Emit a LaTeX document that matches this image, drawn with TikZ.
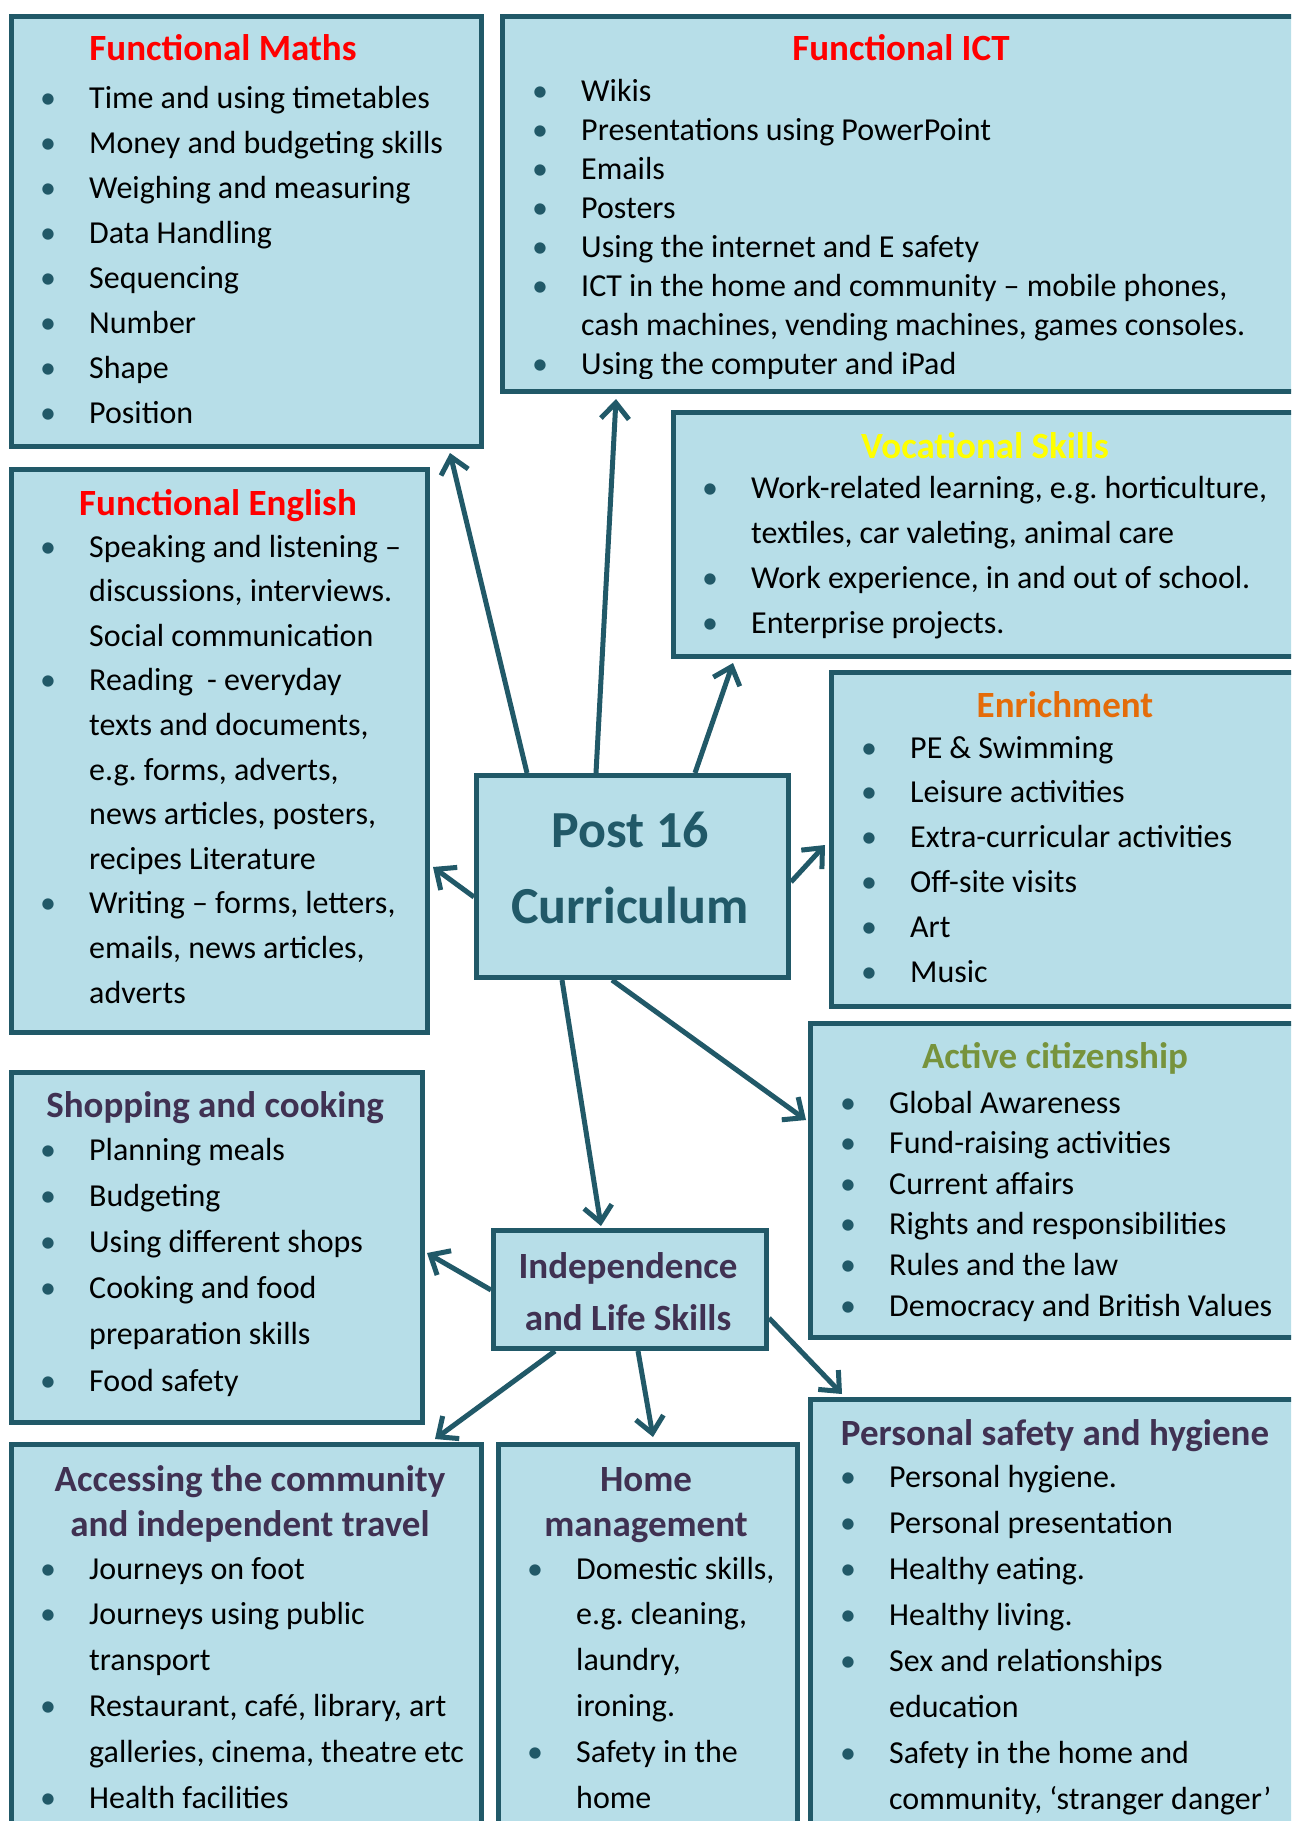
\documentclass[tikz,border=0pt]{standalone}
\usepackage{fontspec}
\setmainfont{Carlito}
\usetikzlibrary{arrows.meta,calc}
\definecolor{edge}{HTML}{215968}
\definecolor{boxfill}{HTML}{B7DEE8}
\definecolor{ttlred}{HTML}{FF0000}
\definecolor{ttlyel}{HTML}{FFFF00}
\definecolor{ttlorg}{HTML}{E46C0A}
\definecolor{ttlgrn}{HTML}{77933C}
\definecolor{ttlpur}{HTML}{403152}
\newlength\bind
\setlength\bind{41pt}
\newcommand\bul[1]{\noindent\makebox[0pt]{\textcolor{edge}{\char"2022}}\hspace*{\bind}#1\par}
\newcommand\cnt[1]{\noindent\hspace*{\bind}#1\par}
\newcommand\pitch[1]{\fontsize{32}{#1}\selectfont\parskip=0pt\parindent=0pt\spaceskip=7.1pt plus 1pt\xspaceskip=7.1pt\relax}
\tikzset{
  box/.style={draw=edge, fill=boxfill, line width=5pt, rectangle, inner sep=0pt, anchor=north west},
  ttl/.style={font=\bfseries\fontsize{37}{44}\selectfont, anchor=base, inner sep=0pt},
  lst/.style={anchor=base west, inner sep=0pt, text width=900pt},
  arr/.style={draw=edge, line width=5pt, -{Straight Barb[length=16pt,width=28pt]}},
}
\begin{document}
\begin{tikzpicture}[x=1pt,y=-1pt]
\clip (0,0) rectangle (1291,1821);
\fill[white] (0,0) rectangle (1291,1821);

% boxes
\node[box, minimum width=470pt, minimum height=430pt] (maths) at (9,14) {};
\node[box, minimum width=810pt, minimum height=375pt] (ict) at (500,14) {};
\node[box, minimum width=639pt, minimum height=244pt] (voc) at (671,410) {};
\node[box, minimum width=416pt, minimum height=563pt] (eng) at (9,467) {};
\node[box, minimum width=481pt, minimum height=334pt] (enr) at (829,670) {};
\node[box, minimum width=312pt, minimum height=202pt] (post) at (474,773) {};
\node[box, minimum width=502pt, minimum height=314pt] (act) at (808,1021) {};
\node[box, minimum width=411pt, minimum height=350pt] (shop) at (9,1070) {};
\node[box, minimum width=273pt, minimum height=118pt] (ind) at (491,1228) {};
\node[box, minimum width=502pt, minimum height=443pt] (pers) at (808,1397) {};
\node[box, minimum width=470pt, minimum height=420pt] (acc) at (9,1442) {};
\node[box, minimum width=299pt, minimum height=420pt] (home) at (496,1442) {};

% titles
\node[ttl, text=ttlred] (mathsT) at (223,60) {Functional Maths};
\node[ttl, text=ttlred] (ictT) at (901,60) {Functional ICT};
\node[ttl, text=ttlyel] (vocT) at (985,458) {Vocational Skills};
\node[ttl, text=ttlred] (engT) at (218,515) {Functional English};
\node[ttl, text=ttlorg] (enrT) at (1065,717) {Enrichment};
\node[ttl, text=edge, font=\bfseries\fontsize{52}{60}\selectfont] (postT1) at (630,847) {Post 16};
\node[ttl, text=edge, font=\bfseries\fontsize{52}{60}\selectfont] (postT2) at (630,923) {Curriculum};
\node[ttl, text=ttlgrn] (actT) at (1055,1068) {Active citizenship};
\node[ttl, text=ttlpur] (shopT) at (215,1117) {Shopping and cooking};
\node[ttl, text=ttlpur] (indT1) at (628,1278) {Independence};
\node[ttl, text=ttlpur] (indT2) at (628,1330) {and Life Skills};
\node[ttl, text=ttlpur] (accT1) at (250,1491) {Accessing the community};
\node[ttl, text=ttlpur] (accT2) at (250,1536) {and independent travel};
\node[ttl, text=ttlpur] (homeT1) at (646,1491) {Home};
\node[ttl, text=ttlpur] (homeT2) at (646,1536) {management};
\node[ttl, text=ttlpur] (persT) at (1055,1445) {Personal safety and hygiene};

% lists
\node[lst] (mathsL) at (48,108) {\pitch{45}%
\bul{Time and using timetables}%
\bul{Money and budgeting skills}%
\bul{Weighing and measuring}%
\bul{Data Handling}%
\bul{Sequencing}%
\bul{Number}%
\bul{Shape}%
\bul{Position}};

\begin{scope}
\clip (500,14) rectangle (1300,378);
\node[lst] (ictL) at (540,101) {\pitch{39.1}%
\bul{Wikis}%
\bul{Presentations using PowerPoint}%
\bul{Emails}%
\bul{Posters}%
\bul{Using the internet and E safety}%
\bul{ICT in the home and community – mobile phones,}%
\cnt{cash machines, vending machines, games consoles.}%
\bul{Using the computer and iPad}};
\end{scope}

\node[lst] (vocL) at (710,498) {\pitch{45}%
\bul{Work-related learning, e.g. horticulture,}%
\cnt{textiles, car valeting, animal care}%
\bul{Work experience, in and out of school.}%
\bul{Enterprise projects.}};

\node[lst] (engL) at (48,557) {\pitch{44.6}%
\bul{Speaking and listening –}%
\cnt{discussions, interviews.}%
\cnt{Social communication}%
\bul{Reading\hspace{14pt}- everyday}%
\cnt{texts and documents,}%
\cnt{e.g. forms, adverts,}%
\cnt{news articles, posters,}%
\cnt{recipes Literature}%
\bul{Writing – forms, letters,}%
\cnt{emails, news articles,}%
\cnt{adverts}};

\node[lst] (enrL) at (869,758) {\pitch{44.8}%
\bul{PE \& Swimming}%
\bul{Leisure activities}%
\bul{Extra-curricular activities}%
\bul{Off-site visits}%
\bul{Art}%
\bul{Music}};

\node[lst] (actL) at (848,1113) {\pitch{40.6}%
\bul{Global Awareness}%
\bul{Fund-raising activities}%
\bul{Current affairs}%
\bul{Rights and responsibilities}%
\bul{Rules and the law}%
\bul{Democracy and British Values}};

\node[lst] (shopL) at (48,1160) {\pitch{46.2}%
\bul{Planning meals}%
\bul{Budgeting}%
\bul{Using different shops}%
\bul{Cooking and food}%
\cnt{preparation skills}%
\bul{Food safety}};

\node[lst] (accL) at (48,1579) {\pitch{45.8}%
\bul{Journeys on foot}%
\bul{Journeys using public}%
\cnt{transport}%
\bul{Restaurant, café, library, art}%
\cnt{galleries, cinema, theatre etc}%
\bul{Health facilities}};

\node[lst] (homeL) at (535,1579) {\pitch{45.8}%
\bul{Domestic skills,}%
\cnt{e.g. cleaning,}%
\cnt{laundry,}%
\cnt{ironing.}%
\bul{Safety in the}%
\cnt{home}};

\node[lst] (persL) at (848,1487) {\pitch{46.1}%
\bul{Personal hygiene.}%
\bul{Personal presentation}%
\bul{Healthy eating.}%
\bul{Healthy living.}%
\bul{Sex and relationships}%
\cnt{education}%
\bul{Safety in the home and}%
\cnt{community, ‘stranger danger’}};

% arrows
\draw[arr] ($(post.north west)+(53,0)$) -- ($(maths.south west)+(441,4)$);
\draw[arr] ($(post.north west)+(122,0)$) -- ($(ict.south west)+(116,5)$);
\draw[arr] ($(post.north west)+(221,0)$) -- ($(voc.south west)+(62,4)$);
\draw[arr] ($(post.north east)+(0,109)$) -- ($(enr.north west)+(-4,175)$);
\draw[arr] ($(post.north west)+(0,124)$) -- ($(eng.north east)+(3,400)$);
\draw[arr] ($(post.south west)+(138,0)$) -- ($(act.north west)+(-2,99)$);
\draw[arr] ($(post.south west)+(88,0)$) -- ($(ind.north west)+(110,-2)$);
\draw[arr] ($(ind.north west)+(0,62)$) -- ($(shop.north east)+(2,183)$);
\draw[arr] ($(ind.south west)+(64,0)$) -- ($(acc.north east)+(-49,-3)$);
\draw[arr] ($(ind.south west)+(147,0)$) -- ($(home.north west)+(157,-5)$);
\draw[arr] ($(ind.north east)+(0,90)$) -- ($(pers.north west)+(34,-3)$);
\end{tikzpicture}
\end{document}
